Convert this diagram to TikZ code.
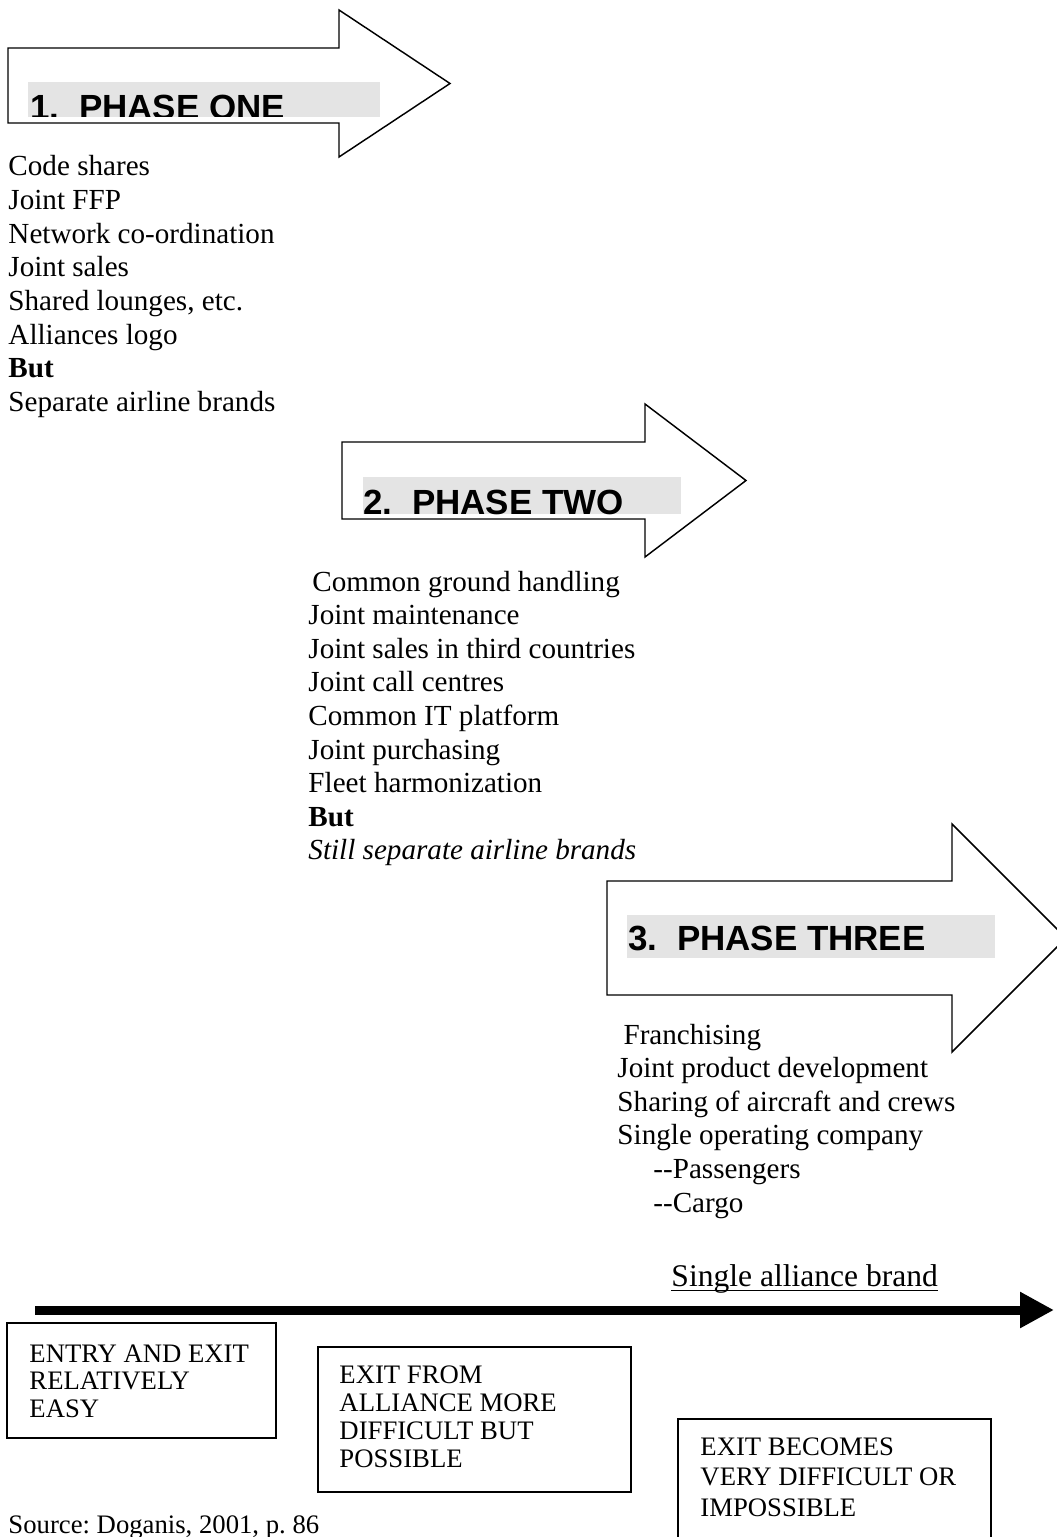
\documentclass[tikz,border=0pt]{standalone}
\usepackage{fontspec}
\setmainfont{Liberation Serif}
\newfontfamily\arialbf{Liberation Sans Bold}
\usetikzlibrary{arrows.meta}
\definecolor{hlgray}{HTML}{E4E4E4}
\frenchspacing
\begin{document}
\begin{tikzpicture}[x=0.412pt,y=-0.412pt,
  bigarrow/.style={draw=black, line width=0.6pt, fill=white, line join=miter},
  hl/.style={fill=hlgray, draw=none},
  phaselabel/.style={anchor=base west, inner sep=0pt, font=\arialbf\fontsize{14.4}{17}\selectfont},
  body/.style={anchor=base west, inner sep=0pt, font=\fontsize{12}{13.85}\selectfont},
  exitbox/.style={draw=black, line width=0.8pt},
  boxtext/.style={anchor=base west, inner sep=0pt},
]
\useasboundingbox (0,0) rectangle (1056,1537);

% phase arrows
\draw[bigarrow] (8,48) -- (339,48) -- (339,10) -- (450,83.5) -- (339,157) -- (339,123) -- (8,123) -- cycle;
\draw[bigarrow] (342,442) -- (645,442) -- (645,404) -- (746,480.5) -- (645,557) -- (645,519) -- (342,519) -- cycle;
\draw[bigarrow] (607,881) -- (952,881) -- (952,824) -- (1066,938) -- (952,1052) -- (952,995) -- (607,995) -- cycle;

% phase labels
\fill[hl] (28,82) rectangle (380,117);
\begin{scope}
  \clip (28,82) rectangle (380,117);
  \node[phaselabel] (p1) at (30,120) {1.\ \ PHASE ONE};
\end{scope}
\fill[hl] (363,477) rectangle (681,514);
\node[phaselabel] (p2) at (363,514) {2.\ \ PHASE TWO};
\fill[hl] (627,915) rectangle (995,958);
\node[phaselabel] (p3) at (628,950) {3.\ \ PHASE THREE};

% lists
\node[body] (l1) at (8,176) {\begin{tabular}[t]{@{}l@{}}
Code shares\\ Joint FFP\\ Network co-ordination\\ Joint sales\\ Shared lounges, etc.\\ Alliances logo\\ \textbf{But}\\ Separate airline brands
\end{tabular}};
\node[body] (l2) at (308,591) {\begin{tabular}[t]{@{}l@{}}
\hspace{1.6pt}Common ground handling\\ Joint maintenance\\ Joint sales in third countries\\ Joint call centres\\ Common IT platform\\ Joint purchasing\\ Fleet harmonization\\ \textbf{But}\\ \textit{Still separate airline brands}
\end{tabular}};
\node[body] (l3) at (617,1044) {\begin{tabular}[t]{@{}l@{}}
\hspace{2.5pt}Franchising\\ Joint product development\\ Sharing of aircraft and crews\\ Single operating company\\ \hspace{14.8pt}\hbox{-}\hbox{-}Passengers\\ \hspace{14.8pt}\hbox{-}\hbox{-}Cargo
\end{tabular}};

% timeline
\node[anchor=base west, inner sep=0pt, font=\fontsize{13}{15}\selectfont] (sab) at (671,1286) {Single alliance brand};
\draw[line width=0.5pt] ([yshift=-1.7pt]sab.base west) -- ([yshift=-1.7pt]sab.base east);
\coordinate (tl0) at (35,1310);
\coordinate (tl1) at (1054,1310);
\draw[line width=3.7pt, -{Triangle[length=14pt,width=14pt]}] (tl0) -- (tl1);

% exit boxes
\draw[exitbox] (7,1323) rectangle (276,1438);
\node[boxtext, font=\fontsize{11}{11.5}\selectfont] (b1) at (29,1362) {\begin{tabular}[t]{@{}l@{}}
ENTRY AND EXIT\\ RELATIVELY\\ EASY\end{tabular}};
\draw[exitbox] (318,1347) rectangle (631,1492);
\node[boxtext, font=\fontsize{11}{11.65}\selectfont] (b2) at (339,1383) {\begin{tabular}[t]{@{}l@{}}
EXIT FROM\\ ALLIANCE MORE\\ DIFFICULT BUT\\ POSSIBLE\end{tabular}};
\draw[exitbox] (678,1419) rectangle (991,1560);
\node[boxtext, font=\fontsize{11}{12.7}\selectfont] (b3) at (700,1455) {\begin{tabular}[t]{@{}l@{}}
EXIT BECOMES\\ VERY DIFFICULT OR\\ IMPOSSIBLE\end{tabular}};

\node[anchor=base west, inner sep=0pt, font=\fontsize{11}{13}\selectfont] (src) at (8,1533) {Source: Doganis, 2001, p. 86};
\end{tikzpicture}
\end{document}
